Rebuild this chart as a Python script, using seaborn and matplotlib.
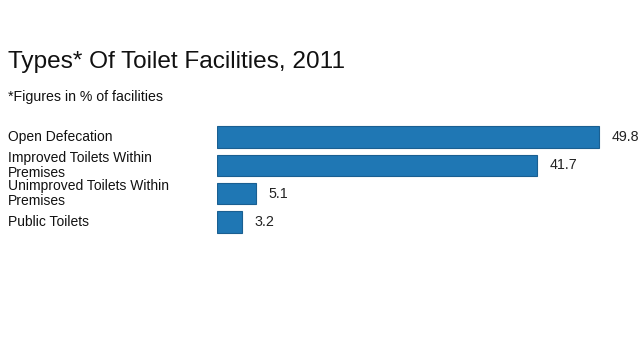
import matplotlib.pyplot as plt
import matplotlib.transforms as mtransforms
import pandas as pd
import seaborn as sns

categories = ['Open Defecation', 'Improved Toilets Within\nPremises',
              'Unimproved Toilets Within\nPremises', 'Public Toilets']
values = [49.8, 41.7, 5.1, 3.2]


def main():
    sns.set_style('white')
    plt.rcParams['font.family'] = ['Liberation Sans', 'DejaVu Sans']

    df = pd.DataFrame({'category': categories, 'value': values})

    fig = plt.figure(figsize=(6.4, 3.6), dpi=100)
    ax = fig.add_axes([217 / 640, 1 - 236 / 360, (631 - 217) / 640, 113 / 360])

    sns.barplot(data=df, x='value', y='category', ax=ax, color='#1f77b4',
                saturation=1, width=0.76, edgecolor='#1a5f91', linewidth=0.8)

    ax.set_xlim(0, 54)
    ax.set_ylim(3.5, -0.5)
    ax.set_xlabel('')
    ax.set_ylabel('')
    ax.set_xticks([])
    ax.set_yticks([])
    sns.despine(ax=ax, left=True, bottom=True)

    # category labels, left aligned to the figure edge
    trans = mtransforms.blended_transform_factory(fig.transFigure, ax.transData)
    for i, cat in enumerate(categories):
        ax.text(8 / 640, i, cat, transform=trans, ha='left', va='center',
                fontsize=10, color='#111111', linespacing=1.15)

    # value labels
    for i, v in enumerate(values):
        ax.annotate(f'{v}', (v, i), xytext=(9, 0), textcoords='offset points',
                    ha='left', va='center', fontsize=10.3, color='#222222')

    fig.text(8 / 640, 1 - 68 / 360, 'Types* Of Toilet Facilities, 2011',
             fontsize=17.6, color='#111111', ha='left', va='baseline')
    fig.text(8 / 640, 1 - 101 / 360, '*Figures in % of facilities',
             fontsize=10.2, color='#111111', ha='left', va='baseline')

    plt.savefig('out.png', dpi=100)


if __name__ == '__main__':
    main()
